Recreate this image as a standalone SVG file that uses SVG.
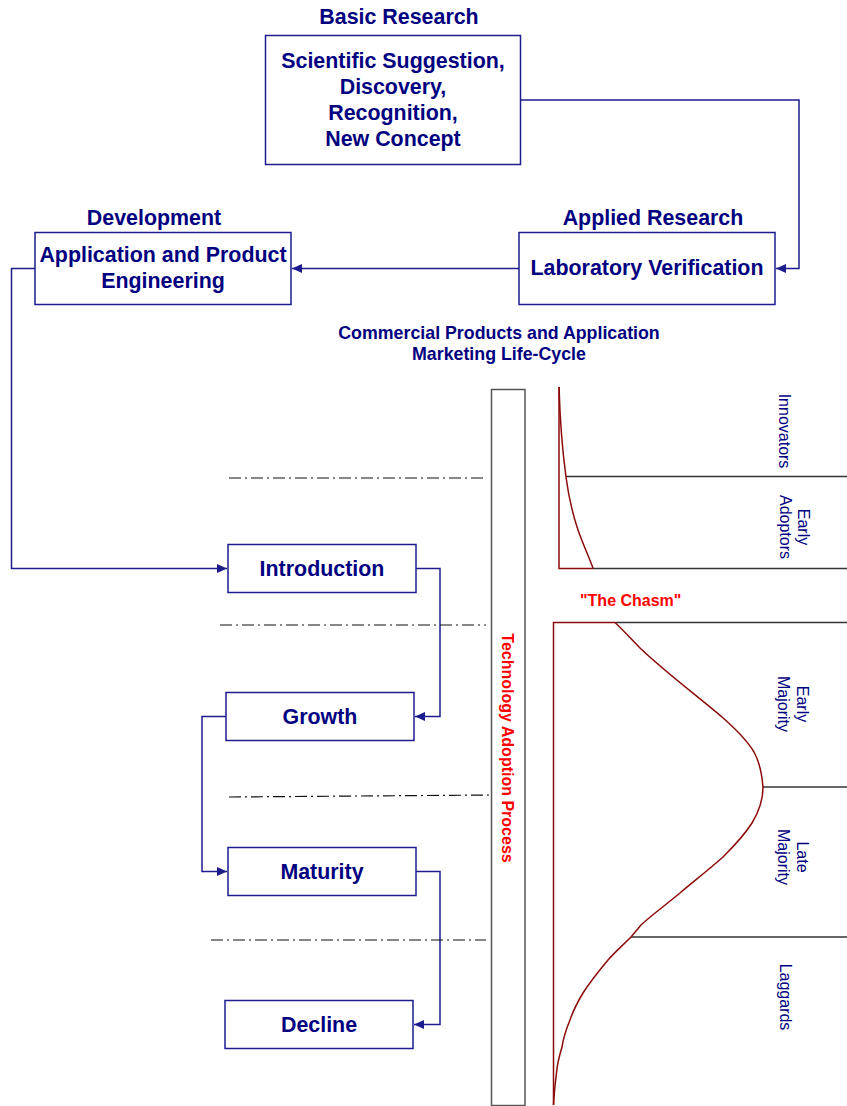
<svg xmlns="http://www.w3.org/2000/svg" width="847" height="1106" viewBox="0 0 847 1106">
<style>
.box{fill:#fff;stroke:#1c1c8c;stroke-width:1.5}
.t{font-family:"Liberation Sans",Arial,sans-serif;font-weight:bold;font-size:21.4px;fill:#000080;text-anchor:middle}
.sub{font-family:"Liberation Sans",Arial,sans-serif;font-weight:bold;font-size:17.8px;fill:#000080;text-anchor:middle}
.lab{font-family:"Liberation Sans",Arial,sans-serif;font-size:16px;fill:#000080;text-anchor:middle}
.red{font-family:"Liberation Sans",Arial,sans-serif;font-weight:bold;font-size:16px;fill:#ff0000}
.con{fill:none;stroke:#1c1c8c;stroke-width:1.5}
.dd{fill:none;stroke:#111;stroke-width:1.2;stroke-dasharray:12 4 2 4}
.hl{fill:none;stroke:#333;stroke-width:1.5}
.cv{fill:none;stroke:#8b0a0a;stroke-width:1.5}
</style>
<defs>
<marker id="arr" markerUnits="userSpaceOnUse" markerWidth="11" markerHeight="9" refX="10" refY="4.5" orient="auto">
<path d="M0,0 L10,4.5 L0,9 z" fill="#1c1c8c"/>
</marker>
</defs>

<g id="basic-research">
<text class="t" x="399" y="24">Basic Research</text>
<rect class="box" x="265.5" y="35.5" width="255" height="129"/>
<text class="t" x="393" y="68">Scientific Suggestion,</text>
<text class="t" x="393" y="94">Discovery,</text>
<text class="t" x="393" y="120">Recognition,</text>
<text class="t" x="393" y="146">New Concept</text>
</g>

<g id="applied-research">
<text class="t" x="653" y="225">Applied Research</text>
<rect class="box" x="519" y="232.5" width="256" height="72"/>
<text class="t" x="647" y="275">Laboratory Verification</text>
</g>

<g id="development">
<text class="t" x="154" y="225">Development</text>
<rect class="box" x="35" y="232.5" width="256" height="72"/>
<text class="t" x="163" y="262">Application and Product</text>
<text class="t" x="163" y="288">Engineering</text>
</g>

<g id="lifecycle-title">
<text class="sub" x="499" y="339">Commercial Products and Application</text>
<text class="sub" x="499" y="360">Marketing Life-Cycle</text>
</g>

<g id="introduction">
<rect class="box" x="228" y="544.5" width="188" height="48"/>
<text class="t" x="322" y="575.5">Introduction</text>
</g>
<g id="growth">
<rect class="box" x="226" y="692.5" width="188" height="48"/>
<text class="t" x="320" y="723.5">Growth</text>
</g>
<g id="maturity">
<rect class="box" x="228" y="847.5" width="188" height="48"/>
<text class="t" x="322" y="878.5">Maturity</text>
</g>
<g id="decline">
<rect class="box" x="225" y="1000.5" width="188" height="48"/>
<text class="t" x="319" y="1031.5">Decline</text>
</g>

<g id="connectors">
<path class="con" d="M520.5,100 H799 V268.5 H776" marker-end="url(#arr)"/>
<path class="con" d="M519,268.5 H292" marker-end="url(#arr)"/>
<path class="con" d="M35,268.5 H11.5 V568.5 H227" marker-end="url(#arr)"/>
<path class="con" d="M416,568.5 H440 V716.5 H415" marker-end="url(#arr)"/>
<path class="con" d="M226,716.5 H202 V871.5 H227" marker-end="url(#arr)"/>
<path class="con" d="M416,871.5 H440 V1024.5 H414" marker-end="url(#arr)"/>
</g>

<g id="stage-dividers">
<path class="dd" d="M229,478 H486"/>
<path class="dd" d="M220,625 H486"/>
<path class="dd" d="M229,797 L491,795"/>
<path class="dd" d="M211,940 H486"/>
</g>

<g id="technology-adoption-process">
<rect x="491.5" y="389.5" width="33.5" height="716" fill="#fff" stroke="#555" stroke-width="1.5"/>
<text class="red" text-anchor="middle" transform="translate(502,748) rotate(90)">Technology Adoption Process</text>
</g>

<g id="adoption-curve">
<path class="hl" d="M566,476.5 H847"/>
<path class="hl" d="M593,568.5 H847"/>
<path class="hl" d="M615,622.5 H847"/>
<path class="hl" d="M763,787 H847"/>
<path class="hl" d="M631,937 H847"/>
<path class="cv" d="M559,387 V568.5 H593"/>
<path class="cv" d="M559,387 C560,420 563,455 566,477 C569,500 573,515 578,530 C583,544 588,555 593,568"/>
<path class="cv" d="M553.5,1105 V622.5 H615"/>
<path class="cv" d="M615,622.5 C625,632 632,640 640,648 C665,672 700,698 722,717 C738,731 748,742 754,752 C760,763 762,775 763,787 C763,800 760,810 752,823 C745,834 735,845 723,857 C705,873 690,884 680,893 C663,907 652,915 641,925 L631,937 C622,946 615,952 608,960 C598,972 590,982 583,993 C577,1003 573,1011 570,1020 C565,1032 563,1040 562,1047 C559,1057 557,1066 556.5,1073 C555,1085 554,1095 553.5,1105"/>
<text class="red" x="580" y="606">"The Chasm"</text>
</g>

<g id="segment-labels">
<text class="lab" transform="translate(779,431) rotate(90)">Innovators</text>
<text class="lab" transform="translate(798,527) rotate(90)">Early</text>
<text class="lab" transform="translate(780,527) rotate(90)">Adoptors</text>
<text class="lab" transform="translate(797,704) rotate(90)">Early</text>
<text class="lab" transform="translate(778,704) rotate(90)">Majority</text>
<text class="lab" transform="translate(797,857) rotate(90)">Late</text>
<text class="lab" transform="translate(778,857) rotate(90)">Majority</text>
<text class="lab" transform="translate(780,997) rotate(90)">Laggards</text>
</g>
</svg>
